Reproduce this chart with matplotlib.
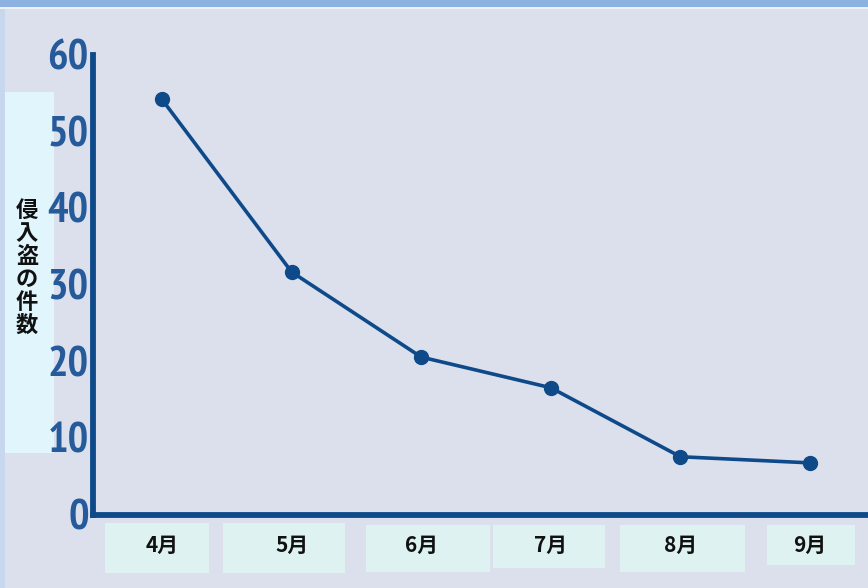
import matplotlib
matplotlib.use("Agg")
import matplotlib.pyplot as plt
from matplotlib.patches import Rectangle
from matplotlib.transforms import ScaledTranslation
from matplotlib import font_manager

plt.rcParams['font.family'] = ['Noto Sans CJK JP', 'DejaVu Sans']

# ---- data ----
months = ["4月", "5月", "6月", "7月", "8月", "9月"]
burglaries = [54.2, 31.7, 20.6, 16.6, 7.6, 6.8]
y_ticks = [0, 10, 20, 30, 40, 50, 60]
y_label = "侵入盗の件数"

# ---- styles ----
W, H = 868, 588
BG = "#dcdfec"
NAVY = "#0e4a89"
TICK_BLUE = "#255a9b"
BOX = "#dff2f2"

names = {f.name for f in font_manager.fontManager.ttflist}
num_font = "DejaVu Sans"
for cand in ["PT Sans Narrow", "Archivo Narrow", "Roboto Condensed"]:
    if cand in names:
        num_font = cand
        break

fig = plt.figure(figsize=(W / 100, H / 100), dpi=100, facecolor=BG)

def px_rect(x0, y0, x1, y1, color, z=0):
    # pixel coords from top-left
    fig.add_artist(Rectangle((x0 / W, 1 - y1 / H), (x1 - x0) / W, (y1 - y0) / H,
                             transform=fig.transFigure, facecolor=color,
                             edgecolor="none", zorder=z))

# frame decorations
px_rect(0, 0, W, 7, "#8db2e2")
px_rect(0, 7, W, 9, "#eef2f8")
px_rect(0, 9, 5, H, "#c6d7ee")

# y label box
px_rect(5, 92, 54, 453, "#e0f5fc")
fig.text(27 / W, 1 - 268 / H, "\n".join(y_label), ha="center", va="center",
         fontsize=16, fontweight="bold", color="#111111", linespacing=1.0)

# x label boxes
box_ext = [(105, 209, 523, 573), (223, 345, 523, 573), (366, 490, 525, 572),
           (493, 605, 525, 568), (620, 745, 525, 572), (767, 855, 525, 565)]
for x0, x1, y0, y1 in box_ext:
    px_rect(x0, y0, x1, y1, BOX)

# axes
ax_left, ax_right, ax_top, ax_bottom = 93, 868, 55, 515
ax = fig.add_axes([ax_left / W, 1 - ax_bottom / H, (ax_right - ax_left) / W,
                   (ax_bottom - ax_top) / H])
ax.set_facecolor("none")
ax.set_zorder(2)

x = list(range(len(months)))
ax.plot(x, burglaries, color=NAVY, linewidth=2.6, marker="o", markersize=10,
        markerfacecolor=NAVY, markeredgecolor=NAVY, clip_on=False, zorder=3)

x0_px, step_px = 162, 129.6
ax.set_xlim((ax_left - x0_px) / step_px, (ax_right - x0_px) / step_px)
ax.set_ylim(0, 60)

for s in ["top", "right"]:
    ax.spines[s].set_visible(False)
for s in ["left", "bottom"]:
    ax.spines[s].set_color(NAVY)
    ax.spines[s].set_linewidth(4.2)
ax.spines["left"].set_capstyle("projecting")

ax.set_xticks(x)
ax.set_xticklabels(months, fontsize=15, fontweight="bold", color="#111111")
ax.tick_params(axis="x", length=0, pad=14)

ax.set_yticks(y_ticks)
ax.set_yticklabels([str(v) for v in y_ticks], fontsize=31, color=TICK_BLUE,
                   family=num_font, fontweight="bold")
ax.tick_params(axis="y", length=0, pad=3)
shift = ScaledTranslation(0, -4 / 100, fig.dpi_scale_trans)
for t in ax.yaxis.get_major_ticks():
    t.label1.set_va("center")
    t.label1.set_transform(t.label1.get_transform() + shift)

fig.savefig("out.png", dpi=100, facecolor=BG)
